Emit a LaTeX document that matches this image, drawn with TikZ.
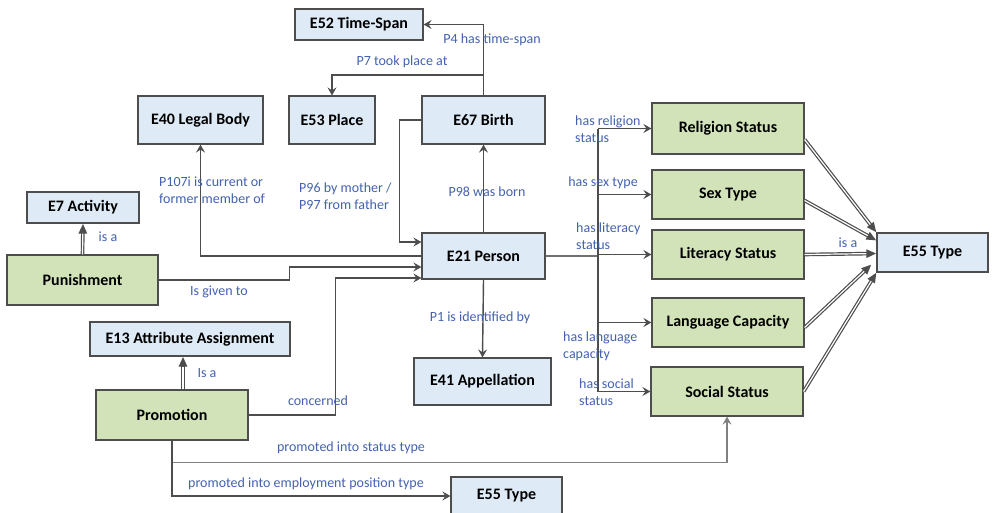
\documentclass[tikz,border=0pt]{standalone}
\usepackage{fontspec}
\setmainfont{Carlito}
\usetikzlibrary{arrows.meta}
\definecolor{boxblue}{HTML}{DEEBF7}
\definecolor{boxgreen}{HTML}{D3E3B9}
\definecolor{edgegray}{HTML}{4D4D4D}
\definecolor{labblue}{HTML}{4462B0}
\begin{document}
\begin{tikzpicture}[x=1pt,y=-1pt,>={Stealth[length=8pt,width=9pt,inset=3pt]},
  ent/.style={draw=edgegray,line width=1.2pt,fill=boxblue,inner sep=0pt,
    font=\fontsize{16}{18}\selectfont\bfseries},
  cls/.style={ent,fill=boxgreen},
  rel/.style={draw=edgegray,line width=1.4pt,->},
  isa/.style={draw=edgegray,line width=3.6pt,-{Triangle[length=10pt,width=8pt]},
    postaction={draw=white,line width=1.2pt,-,shorten >=10pt}},
  lab/.style={text=labblue,inner sep=0pt,align=left,font=\fontsize{14}{17}\selectfont}]
  \useasboundingbox[fill=white] (0,0) rectangle (992,512);
  \node[ent,minimum width=128pt,minimum height=31pt] (ts) at (359,24.5) {E52 Time-Span};
  \node[ent,minimum width=125pt,minimum height=48pt] (legal) at (200.5,120) {E40 Legal Body};
  \node[ent,minimum width=86pt,minimum height=48pt] (place) at (332,120) {E53 Place};
  \node[ent,minimum width=123pt,minimum height=48pt] (birth) at (483.5,120) {E67 Birth};
  \node[ent,minimum width=112pt,minimum height=31pt] (act) at (83,207.5) {E7 Activity};
  \node[cls,minimum width=151pt,minimum height=50pt] (pun) at (82.5,280) {Punishment};
  \node[ent,minimum width=200pt,minimum height=34pt] (attr) at (190,339) {E13 Attribute Assignment};
  \node[cls,minimum width=152pt,minimum height=50pt] (prom) at (172,415) {Promotion};
  \node[ent,minimum width=123pt,minimum height=46pt] (person) at (483.5,256) {E21 Person};
  \node[ent,minimum width=137pt,minimum height=47pt] (appel) at (482.5,381.5) {E41 Appellation};
  \node[ent,minimum width=111pt,minimum height=38pt] (postype) at (506.5,496) {E55 Type};
  \node[cls,minimum width=152pt,minimum height=51pt] (relig) at (728,128.5) {Religion Status};
  \node[cls,minimum width=152pt,minimum height=49pt] (sex) at (728,194.5) {Sex Type};
  \node[cls,minimum width=152pt,minimum height=49pt] (liter) at (728,254.5) {Literacy Status};
  \node[cls,minimum width=152pt,minimum height=49pt] (lang) at (728,322.5) {Language Capacity};
  \node[cls,minimum width=152pt,minimum height=49pt] (social) at (727,391.5) {Social Status};
  \node[ent,minimum width=111pt,minimum height=39pt] (type) at (932.5,252.5) {E55 Type};
  \coordinate (bus) at (598,0);
  \draw[rel] (birth.north) |- (ts.east);
  \draw[rel] (birth.north |- 0,75) -| (place.north);
  \draw[rel] (person.west) -| (legal.south);
  \draw[rel] (birth.west) -- ++(-22,0) |- ([yshift=14pt]person.west);
  \draw[rel] (person.north) -- (birth.south);
  \draw[rel] (pun.east) -- ++(131,0) |- ([yshift=-11pt]person.west);
  \draw[rel] (prom.east) -- ++(87,0) |- ([yshift=-22pt]person.west);
  \draw[rel] (person.south) -- (appel.north);
  \draw[isa] (pun.north) -- (act.south);
  \draw[isa] ([xshift=11pt]prom.north) -- ([xshift=11pt]prom.north |- attr.south);
  \draw[draw=edgegray!80,line width=1.2pt] (person.east) -- (person.east -| bus);
  \draw[draw=edgegray,line width=1.4pt] (relig.west -| bus) -- (social.west -| bus);
  \foreach \b in {relig,sex,liter,lang,social}
    \draw[rel] (\b.west -| bus) -- (\b.west);
  \draw[isa] ([yshift=-11pt]relig.east) -- (type.north west);
  \draw[isa] ([yshift=-6pt]sex.east) -- ([yshift=12pt]type.west);
  \draw[isa] (liter.east) -- ([yshift=-1pt]type.west);
  \draw[isa] ([yshift=-5pt]lang.east) -- ([xshift=-5pt,yshift=-12pt]type.west);
  \draw[isa] (social.east) -- (type.south west);
  \draw[rel,draw=gray] (prom.south) -- ++(0,22) -| (social.south);
  \draw[rel] (prom.south) |- (postype.west);
  \node[lab] (l1) at (492,40) {P4 has time-span};
  \node[lab] (l2) at (402,62) {P7 took place at};
  \node[lab,anchor=west] (l3) at (159,190) {P107i is current or\\former member of};
  \node[lab,anchor=west] (l4) at (299,196) {P96 by mother /\\P97 from father};
  \node[lab] (l5) at (487,192) {P98 was born};
  \node[lab] (l6) at (108,237) {is a};
  \node[lab] (l7) at (219,292) {Is given to};
  \node[lab] (l8) at (207,373) {Is a};
  \node[lab] (l9) at (318,401) {concerned};
  \node[lab] (l10) at (480,318) {P1 is identified by};
  \node[lab,anchor=west] (l11) at (575,129) {has religion\\status};
  \node[lab] (l12) at (603,183) {has sex type};
  \node[lab,anchor=west] (l13) at (576,236) {has literacy\\status};
  \node[lab,anchor=west] (l14) at (563,346) {has language\\capacity};
  \node[lab,anchor=west] (l15) at (579,392) {has social\\status};
  \node[lab] (l16) at (848,243) {is a};
  \node[lab] (l17) at (351,448) {promoted into status type};
  \node[lab] (l18) at (306,484) {promoted into employment position type};
\end{tikzpicture}
\end{document}
